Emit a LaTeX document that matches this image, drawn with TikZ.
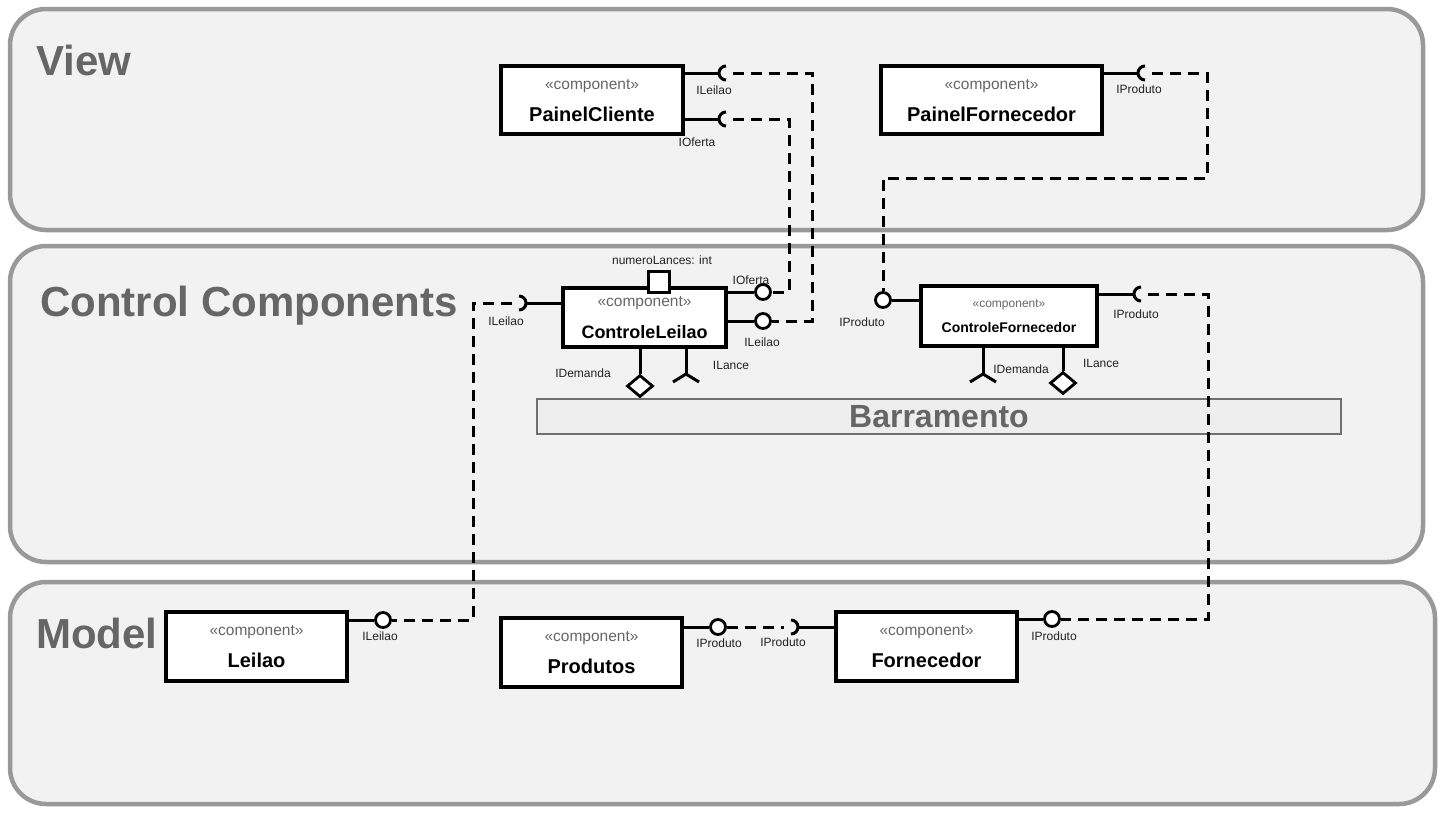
\documentclass[tikz,border=0pt]{standalone}
\usepackage{fontspec}
\setmainfont{Liberation Sans}
\usetikzlibrary{shapes.geometric,calc}
\definecolor{regfill}{HTML}{F2F2F2}
\definecolor{regline}{HTML}{999999}
\definecolor{titlegray}{HTML}{666666}
\definecolor{busfill}{HTML}{EEEEEE}
\definecolor{busline}{HTML}{707070}
\definecolor{lblcol}{HTML}{222222}
\newcommand\mysockR[1]{\draw[wire] ($(#1)+(0,-7)$) .. controls ($(#1)+(-3.9,-7)$) and ($(#1)+(-7,-3.9)$) .. ($(#1)+(-7,0)$) .. controls ($(#1)+(-7,3.9)$) and ($(#1)+(-3.9,7)$) .. ($(#1)+(0,7)$);}
\newcommand\mysockL[1]{\draw[wire] ($(#1)+(0,-7)$) .. controls ($(#1)+(3.9,-7)$) and ($(#1)+(7,-3.9)$) .. ($(#1)+(7,0)$) .. controls ($(#1)+(7,3.9)$) and ($(#1)+(3.9,7)$) .. ($(#1)+(0,7)$);}
\begin{document}
\begin{tikzpicture}[x=1pt,y=-1pt,
  region/.style={draw=regline,line width=4.5pt,fill=regfill,rounded corners=36pt,inner sep=0},
  title/.style={font=\fontsize{42}{46}\selectfont\bfseries,text=titlegray,anchor=base west,inner sep=0},
  comp/.style={draw,line width=3.2pt,fill=white,inner sep=0},
  stereo/.style={font=\fontsize{15.5}{18}\selectfont,text=titlegray,inner sep=0},
  cname/.style={font=\fontsize{20}{24}\selectfont\bfseries,inner sep=0},
  lbl/.style={font=\fontsize{12}{14}\selectfont,text=lblcol,inner sep=0},
  wire/.style={line width=3pt},
  lolli/.style={circle,draw,line width=2.8pt,fill=white,minimum size=15pt,inner sep=0},
  attr/.style={rectangle,draw,line width=2.8pt,fill=white,minimum size=21pt,inner sep=0},
  dep/.style={line width=3pt,dash pattern=on 11pt off 7pt},
  dia/.style={diamond,draw,line width=2.8pt,fill=white,inner sep=0,minimum width=26pt,minimum height=22pt,shape aspect=1.18}]
\useasboundingbox (0,0) rectangle (1445,812);
\fill[white] (0,0) rectangle (1445,812);

% regions
\node[region,minimum width=1413pt,minimum height=221pt] (view) at (716.5,119.5) {};
\node[region,minimum width=1413pt,minimum height=316pt] (ctrl) at (716.5,404) {};
\node[region,minimum width=1425pt,minimum height=222pt] (model) at (722.5,693) {};
\node[title] (tview) at (36,75) {View};
\node[title] (tctrl) at (40,316) {Control Components};
\node[title] (tmodel) at (36,648) {Model};

% bus
\node[draw=busline,line width=2.2pt,fill=busfill,minimum width=804pt,minimum height=35pt,inner sep=0,
  font=\fontsize{32}{36}\selectfont\bfseries,text=titlegray] (bus) at (939,416.5) {Barramento};

% named points
\coordinate (pcLs) at (726,73);
\coordinate (pcOs) at (726,119);
\coordinate (pfPs) at (1145,73);
\coordinate (clLs) at (519,303);
\coordinate (cfPs) at (1141,294);
\coordinate (foPs) at (791,627);
\coordinate (clF) at (686,374);
\coordinate (cfF) at (983,374);

% components
\node[comp,minimum width=182pt,minimum height=68pt] (pc) at (592,100) {};
\node[comp,minimum width=221pt,minimum height=68pt] (pf) at (991.5,100) {};
\node[comp,minimum width=163pt,minimum height=59pt] (cl) at (644.5,317.5) {};
\node[comp,minimum width=176pt,minimum height=60pt] (cf) at (1009,316) {};
\node[comp,minimum width=181pt,minimum height=69pt] (le) at (256.5,646.5) {};
\node[comp,minimum width=181pt,minimum height=69pt] (pr) at (591.5,652.5) {};
\node[comp,minimum width=181pt,minimum height=69pt] (fo) at (926.5,646.5) {};

% provided interfaces (lollipops)
\node[lolli] (clO) at (763,292) {};
\node[lolli] (clL) at (763,321) {};
\node[lolli] (cfP) at (883,300) {};
\node[lolli] (leL) at (383,620) {};
\node[lolli] (prP) at (718,627) {};
\node[lolli] (foP) at (1052,619) {};

% dependencies (dashed)
\draw[dep] ($(pcLs)+(7,0)$) -- (812,73) -- (812,321) -- (clL.east);
\draw[dep] ($(pcOs)+(7,0)$) -- (789,119) -- (789,292) -- (clO.east);
\draw[dep] ($(pfPs)+(7,0)$) -- (1207,73) -- (1207,178) -- (883,178) -- (cfP.north);
\draw[dep] ($(clLs)+(-7,0)$) -- (473,303) -- (473,620) -- (leL.east);
\draw[dep] (prP.east) -- ($(foPs)+(-7,0)$);
\draw[dep] ($(cfPs)+(7,0)$) -- (1208,294) -- (1208,619) -- (foP.east);

% wires to provided
\draw[wire] (cl.east |- clO) -- (clO.west);
\draw[wire] (cl.east |- clL) -- (clL.west);
\draw[wire] (cf.west |- cfP) -- (cfP.east);
\draw[wire] (le.east |- leL) -- (leL.west);
\draw[wire] (pr.east |- prP) -- (prP.west);
\draw[wire] (fo.east |- foP) -- (foP.west);

% required sockets
\draw[wire] (pc.east |- pcLs) -- ($(pcLs)+(-7,0)$); \mysockR{pcLs}
\draw[wire] (pc.east |- pcOs) -- ($(pcOs)+(-7,0)$); \mysockR{pcOs}
\draw[wire] (pf.east |- pfPs) -- ($(pfPs)+(-7,0)$); \mysockR{pfPs}
\draw[wire] (cf.east |- cfPs) -- ($(cfPs)+(-7,0)$); \mysockR{cfPs}
\draw[wire] (cl.west |- clLs) -- ($(clLs)+(7,0)$); \mysockL{clLs}
\draw[wire] (fo.west |- foPs) -- ($(foPs)+(7,0)$); \mysockL{foPs}

% bottom ports
\node[dia] (clD) at (640,386) {};
\draw[wire] (cl.south -| clD) -- (clD.north);
\draw[wire] (cl.south -| clF) -- (clF);
\draw[wire] ($(clF)+(-13,8)$) -- (clF) -- ($(clF)+(13,8)$);
\node[dia] (cfD) at (1063,383) {};
\draw[wire] (cf.south -| cfD) -- (cfD.north);
\draw[wire] (cf.south -| cfF) -- (cfF);
\draw[wire] ($(cfF)+(-13,8)$) -- (cfF) -- ($(cfF)+(13,8)$);
\node[attr] (clA) at (659,282) {};

% component texts
\node[stereo] (pcs) at (592,86) {«component»};
\node[cname] (pcn) at (592,114) {PainelCliente};
\node[stereo] (pfs) at (991.5,86) {«component»};
\node[cname] (pfn) at (991.5,114) {PainelFornecedor};
\node[stereo] (cls) at (644.5,303) {«component»};
\node[cname,font=\fontsize{18}{22}\selectfont\bfseries] (cln) at (644.5,332) {ControleLeilao};
\node[stereo,font=\fontsize{12}{14}\selectfont] (cfs) at (1009,305) {«component»};
\node[cname,font=\fontsize{14}{17}\selectfont\bfseries] (cfn) at (1009,327) {ControleFornecedor};
\node[stereo] (les) at (256.5,632) {«component»};
\node[cname] (len) at (256.5,660) {Leilao};
\node[stereo] (prs) at (591.5,638) {«component»};
\node[cname] (prn) at (591.5,666) {Produtos};
\node[stereo] (fos) at (926.5,632) {«component»};
\node[cname] (fon) at (926.5,660) {Fornecedor};

% interface labels
\node[lbl] (l1) at (714,90) {ILeilao};
\node[lbl] (l2) at (697,142) {IOferta};
\node[lbl] (l3) at (1139,89) {IProduto};
\node[lbl] (l4) at (751,280) {IOferta};
\node[lbl] (l5) at (762,342) {ILeilao};
\node[lbl] (l6) at (506,321) {ILeilao};
\node[lbl] (l7) at (662,260) {numeroLances: int};
\node[lbl] (l8) at (583,373) {IDemanda};
\node[lbl] (l9) at (731,365) {ILance};
\node[lbl] (l10) at (862,322) {IProduto};
\node[lbl] (l11) at (1136,314) {IProduto};
\node[lbl] (l12) at (1021,369) {IDemanda};
\node[lbl] (l13) at (1101,363) {ILance};
\node[lbl] (l14) at (380,636) {ILeilao};
\node[lbl] (l15) at (719,643) {IProduto};
\node[lbl] (l16) at (783,642) {IProduto};
\node[lbl] (l17) at (1054,636) {IProduto};
\end{tikzpicture}
\end{document}
